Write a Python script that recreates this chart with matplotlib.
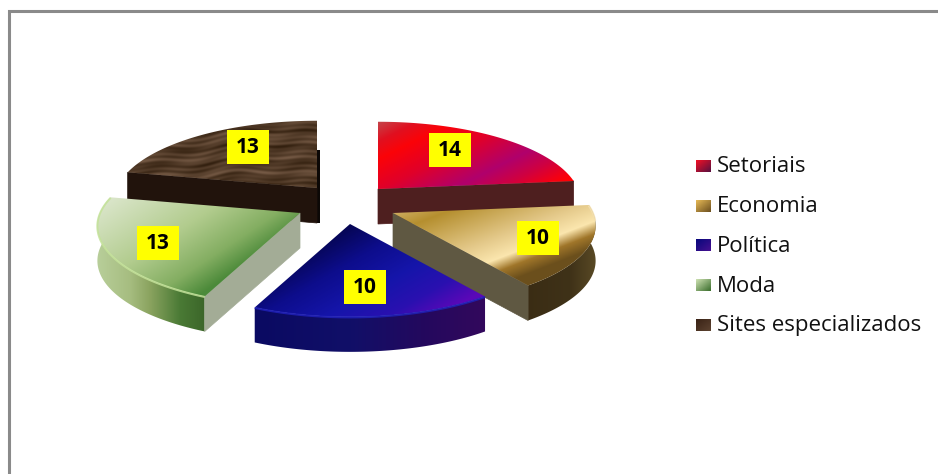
import numpy as np
import matplotlib
matplotlib.use("Agg")
import matplotlib.pyplot as plt
from matplotlib.colors import to_rgb
from matplotlib.patches import Polygon, Rectangle
from matplotlib.lines import Line2D

# ---- data ----
categories = ["Setoriais", "Economia", "Política", "Moda", "Sites especializados"]
values = [14, 10, 10, 13, 13]

# ---- layout / style ----
W, H = 938, 474
apexes = [(378, 189), (393, 213), (350, 224), (300, 213), (317, 188)]
label_centres = [(450, 150), (538, 238), (365, 287), (158, 243), (248, 147)]
legend_y = [167, 207, 246, 286, 326]
A, B, K, T = 200, 78, 0.16, 35

top_dirs = [(.45, .89), (.36, .93), (.5, .86), (.55, .83), None]
top_stops = [
    [(277, "#c24a4e"), (296, "#e01020"), (312, "#fb0308"), (340, "#e0002a"), (372, "#b0006c"), (392, "#d00040"), (414, "#ff0006")],
    [(339, "#cfae62"), (358, "#b58f2f"), (400, "#e4c98a"), (420, "#fbe6ae"), (432, "#a0762a"), (445, "#6b4f1c")],
    [(365, "#05054f"), (400, "#0d0d8c"), (435, "#1515aa"), (465, "#2a10b0"), (490, "#5a08b8")],
    [(225, "#dbe6cb"), (290, "#b2cc8e"), (330, "#84ae62"), (355, "#4c8a3a"), (375, "#4a8a3a")],
    None,
]
face_colors = ["#4e1f1f", "#5f5842", None, "#a3ac96", "#21130c"]
face_uses_end = [True, True, False, False, False]
rim_stops = [
    None,
    [(525, "#3a2c14"), (570, "#3f3218"), (596, "#5a4a25")],
    [(255, "#0a0a62"), (350, "#110f68"), (420, "#23095e"), (486, "#33085c")],
    [(96, "#b9cf9b"), (130, "#a6bd80"), (150, "#8aa35f"), (180, "#4a7a35"), (207, "#3a6428")],
    None,
]
rim_lines = [None, "#f3dfae", "#2020b8", "#c4e29a", None]
rim_line_share = [0, 0.2, 1, 1, 0]
swatches = [("#ef1025", "#5a1040"), ("#e4b755", "#6e5120"), ("#08087c", "#451090"),
            ("#cbdfb0", "#3c6f2e"), ("#3a2316", "#5c4230")]


def project(t, cx, cy):
    """Perspective view of the pie's unit circle; t is clockwise from the top."""
    X, Y = np.sin(t), -np.cos(t)
    s = 1 / (1 - K * Y)
    return cx + A * X * s, cy + B * Y * s


def show_clipped(ax, patch, img, x0, x1, y0, y1, z):
    patch.set(facecolor="none", edgecolor="none", zorder=z)
    ax.add_patch(patch)
    im = ax.imshow(img, extent=(x0, x1, y1, y0), aspect="auto", zorder=z, interpolation="bilinear")
    im.set_clip_path(patch)


def fill_gradient(ax, patch, direction, stops, z):
    xs, ys = patch.get_xy()[:, 0], patch.get_xy()[:, 1]
    x0, x1, y0, y1 = xs.min() - 2, xs.max() + 2, ys.min() - 2, ys.max() + 2
    gx, gy = np.meshgrid(np.arange(x0, x1), np.arange(y0, y1))
    p = direction[0] * gx + direction[1] * gy
    pos = [s[0] for s in stops]
    cols = np.array([to_rgb(s[1]) for s in stops])
    img = np.dstack([np.interp(p, pos, cols[:, i]) for i in range(3)])
    show_clipped(ax, patch, img, x0, x1, y0, y1, z)


def wood(ax, patch, z):
    xs, ys = patch.get_xy()[:, 0], patch.get_xy()[:, 1]
    x0, x1, y0, y1 = xs.min() - 2, xs.max() + 2, ys.min() - 2, ys.max() + 2
    gx, gy = np.meshgrid(np.arange(x0, x1), np.arange(y0, y1))
    w = gy + 3 * np.sin(gx * 0.031) + 2 * np.sin(gx * 0.083 + 1)
    v = (0.36 + 0.13 * np.sin(w * 0.37) + 0.10 * np.sin(w * 0.83 + 1.3)
         + 0.09 * np.sin(w * 1.31 + gx * 0.047) + 0.08 * np.sin(gx * 0.13 + w * 0.21))
    v = np.clip(v, 0, 1)[..., None]
    dark, light = np.array(to_rgb("#33200f")), np.array(to_rgb("#8a6c56"))
    show_clipped(ax, patch, dark + (light - dark) * v, x0, x1, y0, y1, z)


fig = plt.figure(figsize=(W / 100, H / 100), dpi=100)
ax = fig.add_axes([0, 0, 1, 1])
ax.axis("off")

# frame
ax.add_line(Line2D([8.5, 8.5, W + 2], [H + 2, 10.5, 10.5], color="#8a8a8a", lw=2.2, solid_joinstyle="miter"))

# angular extents from the values
edges = np.concatenate([[0], np.cumsum(values)]) / np.sum(values) * 2 * np.pi
order = [4, 0, 3, 1, 2]  # back to front

for n, i in enumerate(order):
    z = 2 + n
    cx, cy = apexes[i]
    t0, t1 = edges[i], edges[i + 1]
    ts = np.linspace(t0, t1, 80)
    ax_, ay_ = project(ts, cx, cy)

    # small dark end-face behind the brown slice
    if i == 4:
        ax.add_patch(Rectangle((cx, 150), 2.5, cy + T - 150, fc="#0c0806", ec="none", zorder=z))

    # outer rim wall
    if rim_stops[i] is not None:
        rim = np.column_stack([np.r_[ax_, ax_[::-1]], np.r_[ay_, ay_[::-1] + T]])
        fill_gradient(ax, Polygon(rim, closed=True), (1, 0), rim_stops[i], z)

    # radial wall
    if face_colors[i] is not None:
        ex, ey = project(t1 if face_uses_end[i] else t0, cx, cy)
        ax.add_patch(Polygon([(cx, cy), (ex, ey), (ex, ey + T), (cx, cy + T)], closed=True,
                             fc=face_colors[i], ec=face_colors[i], lw=0.5, zorder=z + 0.1))

    # top surface
    top = np.column_stack([np.r_[cx, ax_], np.r_[cy, ay_]])
    if top_stops[i] is None:
        wood(ax, Polygon(top, closed=True), z + 0.2)
    else:
        fill_gradient(ax, Polygon(top, closed=True), top_dirs[i], top_stops[i], z + 0.2)

    # bevel highlight along the visible outer arc
    if rim_lines[i] is not None:
        m = int(len(ts) * rim_line_share[i])
        ax.plot(ax_[:m], ay_[:m] + 0.5, color=rim_lines[i], lw=1.5, alpha=0.85, zorder=z + 0.3,
                solid_capstyle="butt")

# value labels
for v, (lx, ly) in zip(values, label_centres):
    ax.add_patch(Rectangle((lx - 21, ly - 17), 42, 34, fc="#ffff00", ec="none", zorder=20))
    ax.text(lx, ly + 0.5, str(v), ha="center", va="center", fontsize=15, fontweight="bold",
            family="Open Sans", color="black", zorder=21)

# legend
for name, y, (c0, c1) in zip(categories, legend_y, swatches):
    c = np.array([to_rgb(c0), to_rgb(c1)])
    u = np.linspace(0, 1, 15)
    grad = (u[None, :] + u[:, None]) / 2
    img = c[0] + (c[1] - c[0]) * grad[..., None]
    ax.imshow(img, extent=(696, 711, y + 5, y - 7), aspect="auto", zorder=10)
    ax.text(717, y, name, ha="left", va="center", fontsize=16, family="Open Sans", color="#111111")

ax.set_xlim(0, W)
ax.set_ylim(H, 0)
fig.savefig("out.png", dpi=100, facecolor="white")
